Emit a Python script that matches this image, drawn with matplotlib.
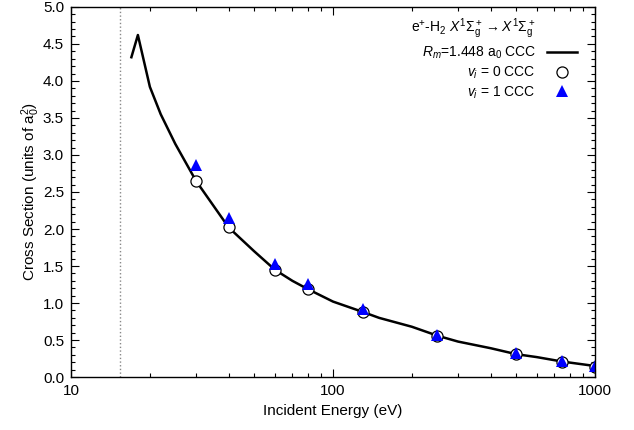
import matplotlib
matplotlib.use("Agg")
import matplotlib.pyplot as plt
from matplotlib.ticker import MultipleLocator, FixedLocator, NullFormatter, LogLocator

plt.rcParams['font.family'] = ['Liberation Sans', 'DejaVu Sans']
plt.rcParams['mathtext.fontset'] = 'custom'
plt.rcParams['mathtext.rm'] = 'Liberation Sans'
plt.rcParams['mathtext.it'] = 'Liberation Sans:italic'
plt.rcParams['mathtext.bf'] = 'Liberation Sans:bold'
plt.rcParams['font.size'] = 10

# Data
line_E = [17, 18, 20, 22, 25, 30, 40, 50, 60, 70, 80, 100, 130, 150, 200, 250, 300, 400, 500, 600, 750, 1000]
line_cs = [4.32, 4.62, 3.92, 3.55, 3.15, 2.65, 2.02, 1.70, 1.45, 1.30, 1.19, 1.02, 0.88, 0.80, 0.68, 0.56, 0.48, 0.39, 0.31, 0.27, 0.21, 0.15]
v0_E = [30, 40, 60, 80, 130, 250, 500, 750, 1000]
v0_cs = [2.65, 2.03, 1.45, 1.19, 0.88, 0.56, 0.31, 0.21, 0.14]
v1_E = [30, 40, 60, 80, 130, 250, 500, 750, 1000]
v1_cs = [2.87, 2.15, 1.53, 1.26, 0.92, 0.57, 0.32, 0.22, 0.15]
threshold = 15.43
x_ticks = [10, 100, 1000]
x_tick_labels = ['10', '100', '1000']

fig = plt.figure(figsize=(6.34, 4.30), dpi=100)
ax = fig.add_axes([0.112, 0.123, 0.8265, 0.861])

ax.axvline(threshold, color='#888888', linestyle=':', linewidth=1.0)
ax.plot([], [], color='none',
        label=r"e$^{+}$-H$_2$ $X^1\Sigma_\mathrm{g}^+ \rightarrow X^1\Sigma_\mathrm{g}^+$")
ax.plot(line_E, line_cs, color='black', linewidth=1.8, label=r"$R_m$=1.448 a$_0$ CCC")
ax.plot(v0_E, v0_cs, linestyle='none', marker='o', markersize=8, markerfacecolor='white',
        markeredgecolor='black', markeredgewidth=0.9, label=r"$v_i$ = 0 CCC")
ax.plot(v1_E, v1_cs, linestyle='none', marker='^', markersize=8, color='#0000ff',
        markeredgewidth=0, label=r"$v_i$ = 1 CCC")

ax.set_xscale('log')
ax.set_xlim(10, 1000)
ax.set_ylim(0, 5.0)
ax.xaxis.set_major_locator(FixedLocator(x_ticks))
ax.xaxis.set_major_formatter(matplotlib.ticker.FixedFormatter(x_tick_labels))
ax.xaxis.set_minor_locator(LogLocator(base=10, subs=range(2, 10)))
ax.xaxis.set_minor_formatter(NullFormatter())
ax.yaxis.set_major_locator(MultipleLocator(0.5))
ax.yaxis.set_minor_locator(MultipleLocator(0.1))
ax.yaxis.set_major_formatter(matplotlib.ticker.FormatStrFormatter('%.1f'))

ax.tick_params(which='both', direction='in', top=True, right=True, labelsize=11, width=0.8)
ax.tick_params(which='major', length=6, pad=5)
ax.tick_params(which='minor', length=3)
for s in ax.spines.values():
    s.set_linewidth(1.0)

ax.set_xlabel("Incident Energy (eV)", fontsize=11, labelpad=4)
ax.set_ylabel(r"Cross Section (units of a$_0^2$)", fontsize=11, labelpad=1)

leg = ax.legend(loc='upper right', frameon=False, markerfirst=False, fontsize=10,
                handlelength=2.2, handletextpad=0.8, labelspacing=0.25,
                borderaxespad=0.3, bbox_to_anchor=(0.985, 1.0))

fig.savefig("out.png", dpi=100)
